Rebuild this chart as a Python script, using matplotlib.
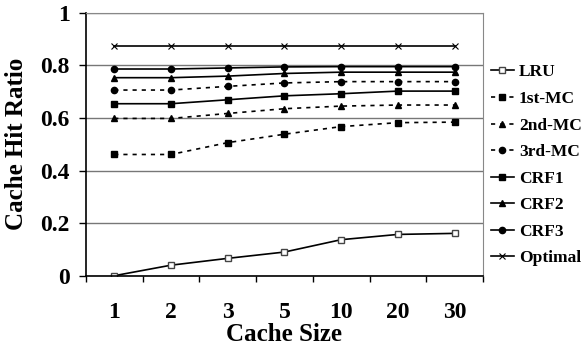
import matplotlib
matplotlib.use("Agg")
import matplotlib.pyplot as plt

plt.rcParams['font.family'] = ['Liberation Serif', 'DejaVu Serif']
plt.rcParams['font.weight'] = 'bold'
plt.rcParams['axes.labelweight'] = 'bold'

cache_sizes = ["1", "2", "3", "5", "10", "20", "30"]
lru = [0.0, 0.040, 0.066, 0.090, 0.137, 0.157, 0.161]
mc1 = [0.461, 0.461, 0.506, 0.538, 0.567, 0.582, 0.584]
mc2 = [0.598, 0.598, 0.617, 0.635, 0.645, 0.649, 0.649]
mc3 = [0.706, 0.706, 0.720, 0.733, 0.738, 0.738, 0.738]
crf1 = [0.654, 0.654, 0.669, 0.684, 0.692, 0.702, 0.702]
crf2 = [0.753, 0.753, 0.759, 0.769, 0.774, 0.774, 0.774]
crf3 = [0.786, 0.786, 0.790, 0.794, 0.795, 0.795, 0.795]
optimal = [0.873, 0.873, 0.873, 0.873, 0.873, 0.873, 0.873]

fig = plt.figure(figsize=(5.84, 3.44), dpi=100)
ax = fig.add_axes([0.147, 0.1985, 0.68, 0.7645])
x = range(len(cache_sizes))

dash = (0, (2.5, 3))
ax.plot(x, lru, color='black', lw=1.2, marker='s', ms=4, mfc='white', mec='#444444', mew=1, label='LRU')
ax.plot(x, mc1, color='black', lw=1.2, ls=dash, marker='s', ms=4.5, label='1st-MC')
ax.plot(x, mc2, color='black', lw=1.2, ls=dash, marker='^', ms=5, label='2nd-MC')
ax.plot(x, mc3, color='black', lw=1.2, ls=dash, marker='o', ms=4.5, label='3rd-MC')
ax.plot(x, crf1, color='black', lw=1.2, marker='s', ms=4.5, label='CRF1')
ax.plot(x, crf2, color='black', lw=1.2, marker='^', ms=5, label='CRF2')
ax.plot(x, crf3, color='black', lw=1.2, marker='o', ms=4.5, label='CRF3')
ax.plot(x, optimal, color='black', lw=1.2, marker='x', ms=5, mew=0.8, label='Optimal')

ax.set_xlim(-0.5, 6.5)
ax.set_ylim(0, 1)
ax.set_yticks([0, 0.2, 0.4, 0.6, 0.8, 1])
ax.set_yticklabels(['0', '0.2', '0.4', '0.6', '0.8', '1'])
ax.set_xticks([i - 0.5 for i in range(8)])
ax.set_xticklabels([])
ax.set_xticks(list(x), minor=True)
ax.set_xticklabels(cache_sizes, minor=True)
ax.tick_params(axis='x', which='major', length=4.5, width=1, direction='out')
ax.tick_params(axis='x', which='minor', length=0, pad=19, labelsize=17)
ax.tick_params(axis='y', length=5, width=1, labelsize=17, pad=6.5)
ax.yaxis.grid(True, color='#777777', lw=1)
ax.set_axisbelow(True)
for s in ['top', 'right']:
    ax.spines[s].set_color('#888888')
ax.spines['left'].set_linewidth(1.2)
ax.spines['bottom'].set_linewidth(1.2)

ax.set_xlabel("Cache Size", fontsize=18)
ax.set_ylabel("Cache Hit Ratio", fontsize=18)
ax.xaxis.set_label_coords(0.5, -0.178)
ax.yaxis.set_label_coords(-0.145, 0.5)

ax.legend(loc='upper left', bbox_to_anchor=(0.99, 0.85), frameon=False, fontsize=12.5,
          handlelength=1.3, handletextpad=0.3, labelspacing=0.6, borderaxespad=0.3)

fig.savefig("out.png", dpi=100)
